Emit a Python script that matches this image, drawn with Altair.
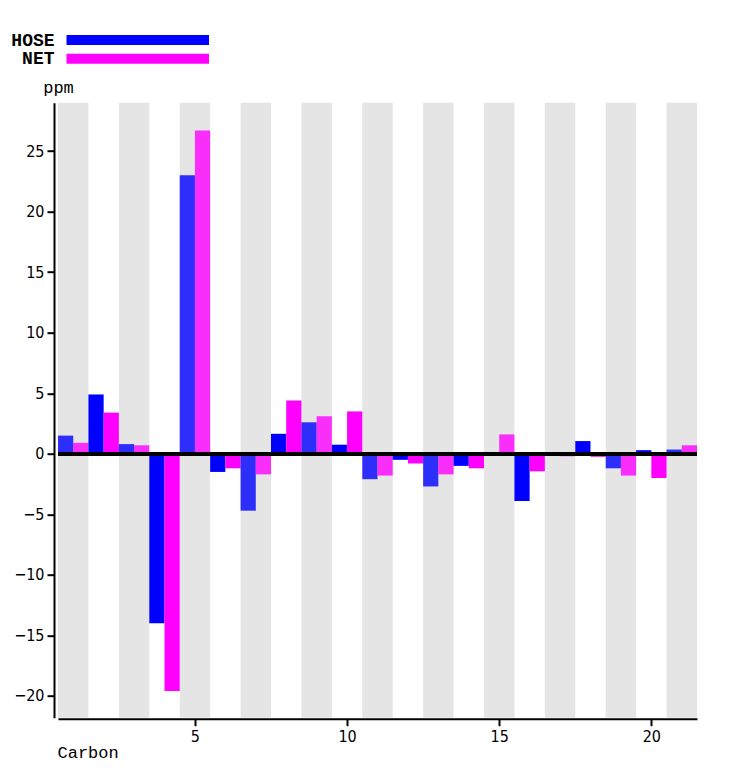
import altair as alt
import pandas as pd

carbons = list(range(1, 22))
hose = [1.5, 4.9, 0.8, -14.0, 23.0, -1.5, -4.7, 1.65, 2.6, 0.75, -2.1,
        -0.5, -2.7, -1.0, 0.15, -3.9, -0.1, 1.05, -1.2, 0.3, 0.35]
net = [0.9, 3.4, 0.7, -19.6, 26.7, -1.2, -1.7, 4.4, 3.1, 3.5, -1.8,
       -0.8, -1.7, -1.2, 1.6, -1.45, -0.2, -0.25, -1.8, -2.0, 0.7]
series_names = ["HOSE", "NET"]
series_colors = ["#0000ff", "#ff00ff"]
x_ticks = [5, 10, 15, 20]
y_ticks = [-20, -15, -10, -5, 0, 5, 10, 15, 20, 25]

W, H = 639, 615

rows = []
for c, h, n in zip(carbons, hose, net):
    rows.append({"carbon": c, "series": "HOSE", "value": h, "x0": c - 0.5, "x1": c})
    rows.append({"carbon": c, "series": "NET", "value": n, "x0": c, "x1": c + 0.5})
df = pd.DataFrame(rows)

bands = pd.DataFrame({"carbon": [c for c in carbons if c % 2 == 1]})
bands["b0"] = bands["carbon"] - 0.5
bands["b1"] = bands["carbon"] + 0.5

xscale = alt.Scale(domain=[0.5, 21.5], nice=False, zero=False)
yscale = alt.Scale(domain=[-21.8, 29.0], nice=False, zero=False)
color_scale = alt.Scale(domain=series_names, range=series_colors)

tick_font = "DejaVu Sans Condensed"
mono = "Liberation Mono"

band_layer = alt.Chart(bands).mark_rect(color="#e5e5e5").encode(
    x=alt.X("b0:Q", scale=xscale,
            axis=alt.Axis(values=x_ticks, title="Carbon", grid=False,
                          titleAlign="left", titleAnchor="start",
                          titleX=-1, titleY=39, titleBaseline="alphabetic",
                          titleFont=mono, titleFontSize=17, titleFontWeight="normal",
                          labelFont=tick_font, labelFontSize=16, labelColor="black",
                          tickSize=7, tickWidth=2, tickColor="black",
                          domainColor="black", domainWidth=2, offset=1,
                          labelPadding=3)),
    x2="b1:Q",
    y=alt.value(0),
    y2=alt.value(H),
)

bars = alt.Chart(df).transform_calculate(
    op="datum.carbon % 2 == 1 ? 0.8 : 1"
).mark_bar(strokeWidth=0).encode(
    x=alt.X("x0:Q", scale=xscale),
    x2="x1:Q",
    y=alt.Y("value:Q", scale=yscale,
            axis=alt.Axis(values=y_ticks, title="ppm", grid=False,
                          titleAngle=0, titleAlign="center", titleX=4, titleY=-10,
                          titleBaseline="alphabetic",
                          titleFont=mono, titleFontSize=17, titleFontWeight="normal",
                          labelFont=tick_font, labelFontSize=16, labelColor="black",
                          tickSize=7, tickWidth=2, tickColor="black",
                          domainColor="black", domainWidth=2, offset=4,
                          labelPadding=3)),
    y2=alt.datum(0),
    color=alt.Color("series:N", scale=color_scale, legend=None),
    opacity=alt.Opacity("op:Q", scale=None),
)

zero = alt.Chart(df).mark_rule(color="black", strokeWidth=3).encode(
    y=alt.datum(0)
)

legend_layers = []
text_baselines = [-57, -38.5]
bar_tops = [-67.7, -48.9]
for name, col, tb, bt in zip(series_names, series_colors, text_baselines, bar_tops):
    legend_layers.append(
        alt.Chart(pd.DataFrame({"series": [name]})).mark_text(
            align="right", baseline="alphabetic", font=mono, fontSize=18,
            fontWeight="bold", color="black"
        ).encode(text="series:N", x=alt.value(-3.5), y=alt.value(tb))
    )
    legend_layers.append(
        alt.Chart(pd.DataFrame({"series": [name]})).mark_rect(color=col).encode(
            x=alt.value(8.5), x2=alt.value(151), y=alt.value(bt), y2=alt.value(bt + 10)
        )
    )

chart = alt.layer(band_layer, bars, zero, *legend_layers).properties(
    width=W, height=H,
    background="white",
    autosize=alt.AutoSizeParams(type="none"),
    padding={"left": 58, "top": 102.7, "right": 34, "bottom": 59},
).configure_view(stroke="transparent", strokeWidth=0)

chart.save("out.html", embed_options={"renderer": "svg", "actions": False})
